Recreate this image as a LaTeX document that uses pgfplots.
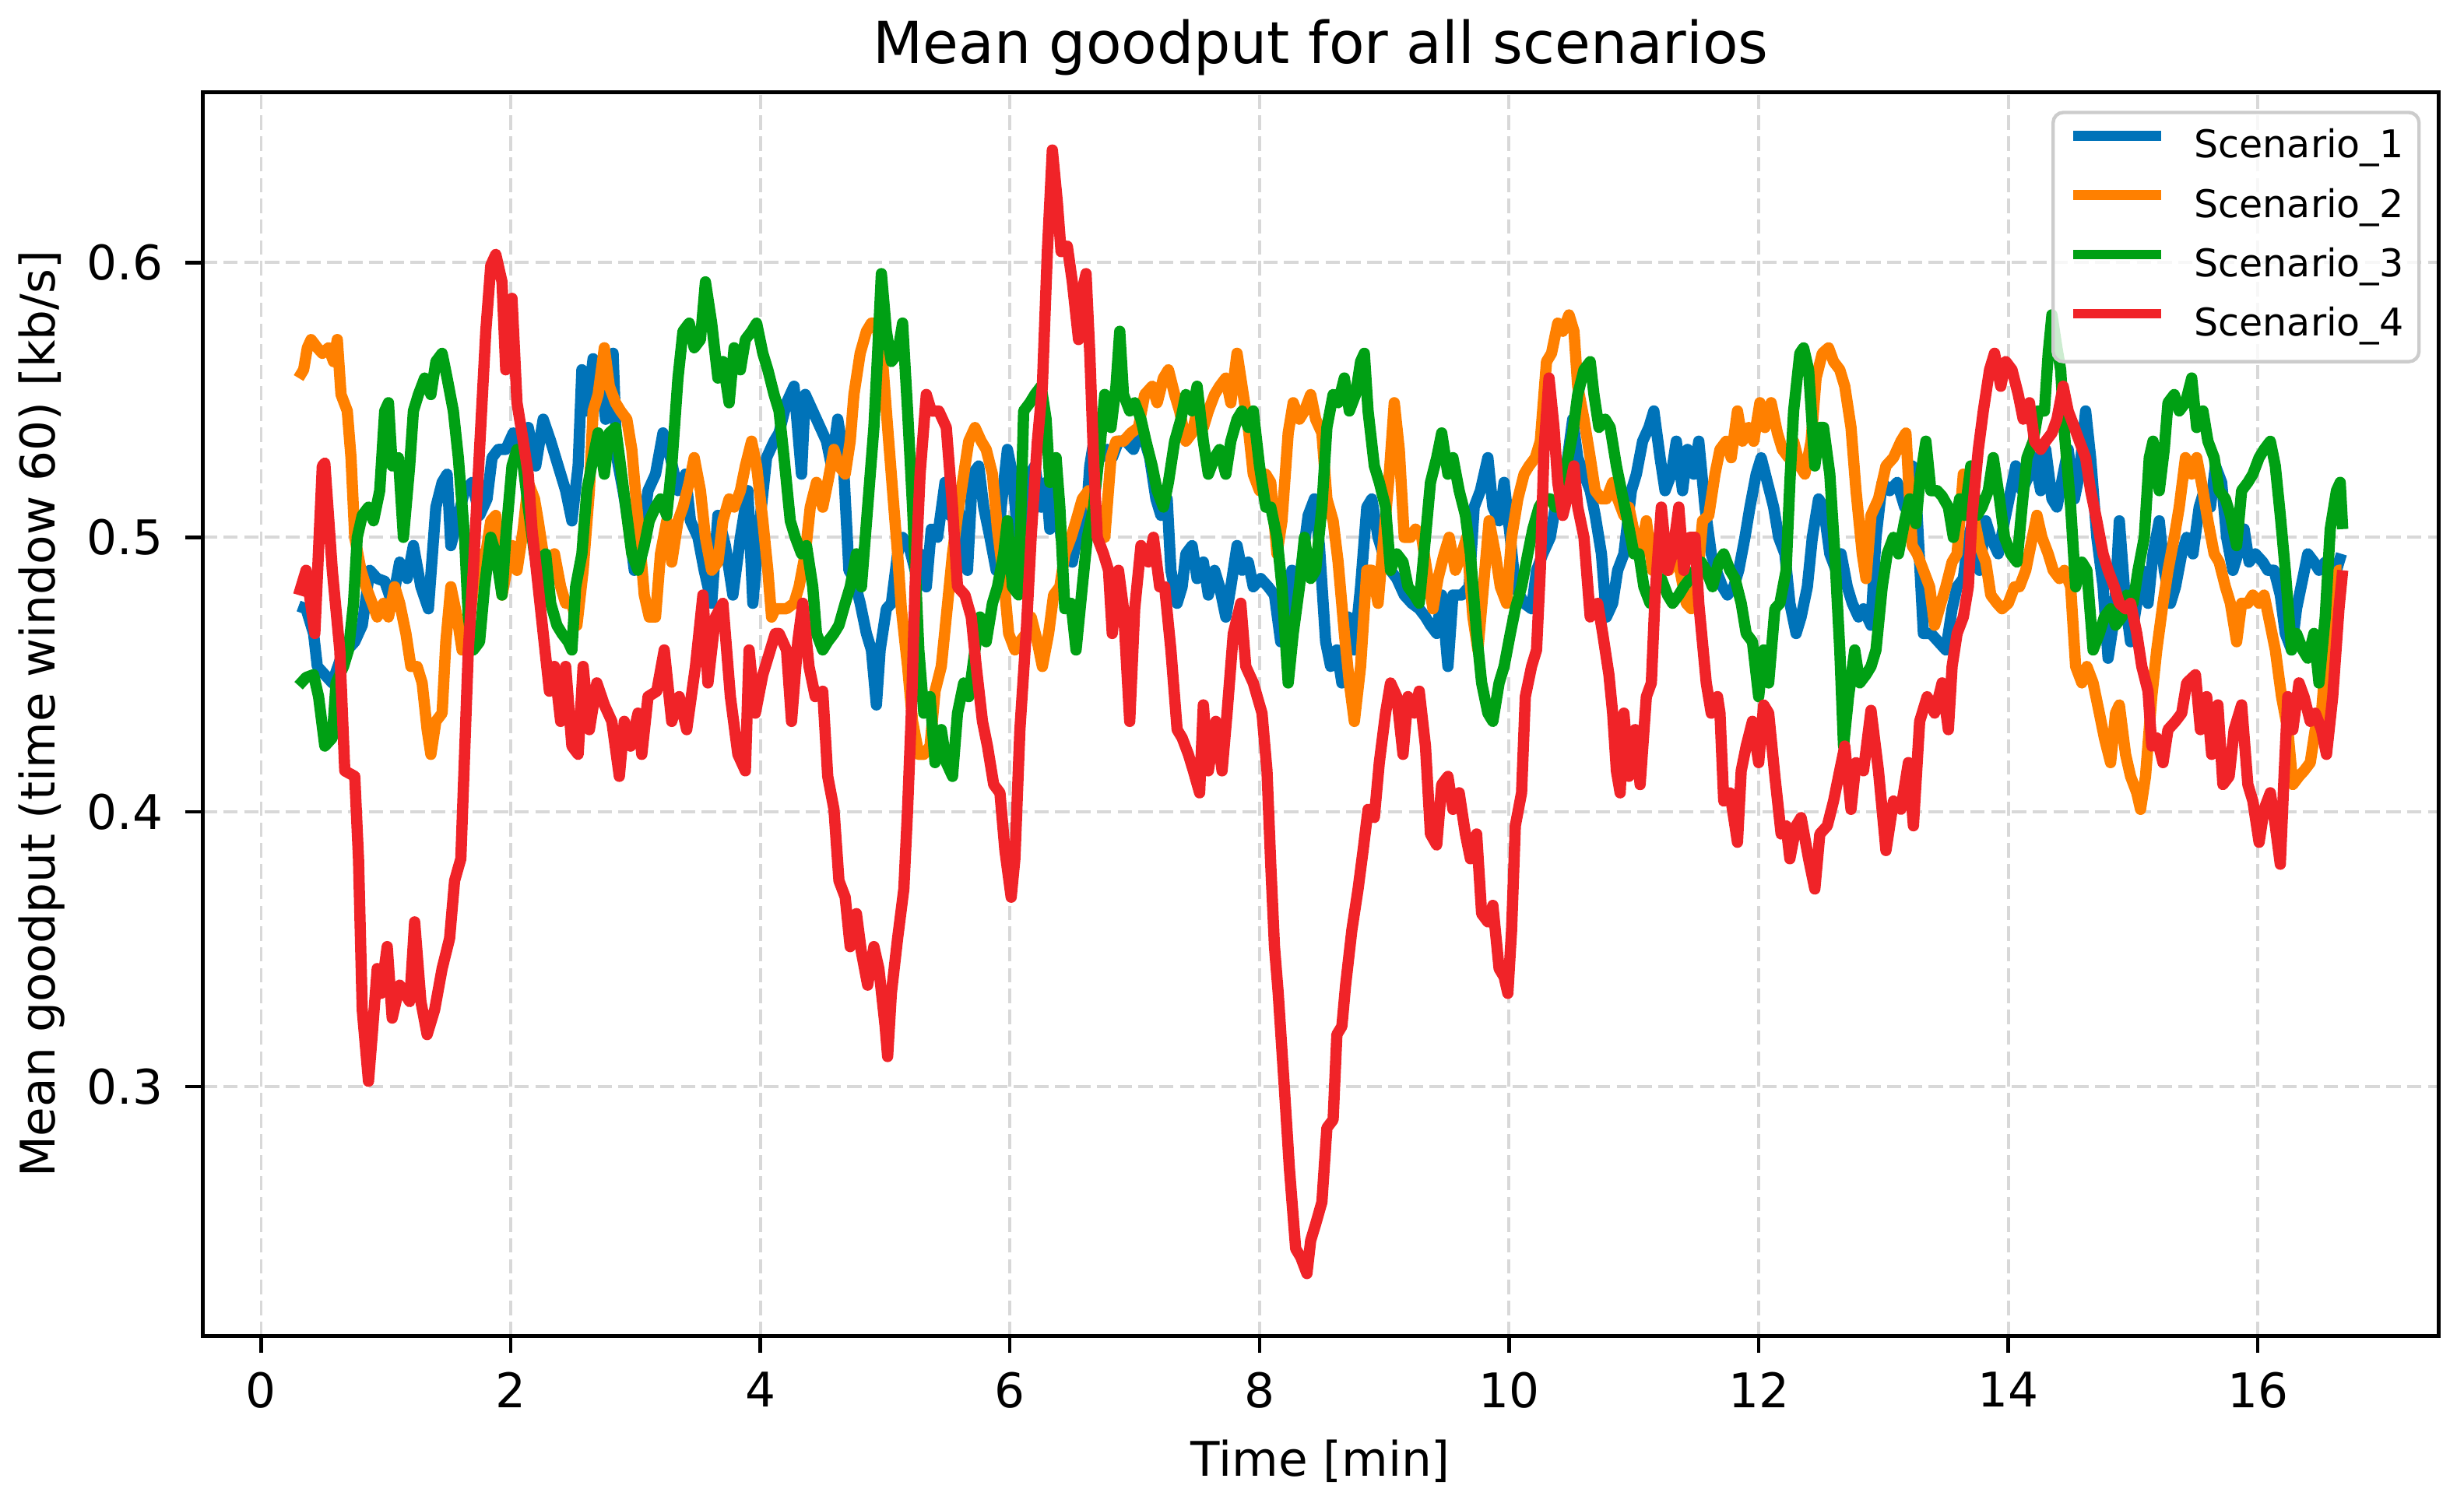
\documentclass[border=0pt]{standalone}
\usepackage{fontspec}
\setmainfont{DejaVu Sans}
\usepackage{pgfplots}
\pgfplotsset{compat=1.18}
\definecolor{cblue}{RGB}{0,115,185}
\definecolor{corange}{RGB}{255,128,0}
\definecolor{cgreen}{RGB}{0,160,20}
\definecolor{cred}{RGB}{240,35,40}
\definecolor{cgrid}{RGB}{216,216,216}
\definecolor{cleg}{RGB}{204,204,204}
\begin{document}
\begin{tikzpicture}
\useasboundingbox (-59.4pt,-48.9pt) rectangle (663.3pt,391.9pt);
\begin{axis}[
  at={(0,0)}, anchor=south west,
  scale only axis, width=655.9pt, height=364.8pt,
  xmin=-0.47, xmax=17.45, ymin=0.2093, ymax=0.662,
  xtick={0,2,4,6,8,10,12,14,16},
  xticklabels={0,2,4,6,8,10,12,14,16},
  ytick={0.3,0.4,0.5,0.6},
  yticklabels={0.3,0.4,0.5,0.6},
  /pgf/number format/assume math mode=true,
  tick align=outside, tick pos=left,
  major tick length=5pt,
  every tick/.style={black, line width=1pt},
  axis line style={line width=1.1pt},
  grid=major,
  major grid style={cgrid, line width=0.9pt, dash pattern=on 4.2pt off 1.9pt},
  ticklabel style={font=\fontsize{14}{16}\selectfont, inner sep=0pt},
  xticklabel style={yshift=-5.5pt},
  yticklabel style={xshift=-6.4pt},
  title={Mean goodput for all scenarios},
  title style={font=\fontsize{17}{20}\selectfont, at={(axis description cs:0.5,1)}, anchor=base, yshift=2.4pt, inner sep=0pt},
  xlabel={Time [min]},
  xlabel style={font=\fontsize{14}{16}\selectfont, at={(axis description cs:0.5,-0.0833)}, anchor=north, inner sep=0pt},
  ylabel={Mean goodput (time window 60) [kb/s]},
  ylabel style={font=\fontsize{14}{16}\selectfont, at={(axis description cs:-0.0613,0.5)}, anchor=south, inner sep=0pt},
  legend image code/.code={\draw[#1, line width=2.9pt] (0pt,0.36em) -- (25.8pt,0.36em);},
  legend style={at={(axis description cs:1,1)}, anchor=north east, xshift=-5.3pt, yshift=-5.4pt,
    draw=cleg, line width=1pt, rounded corners=3pt, fill=white, fill opacity=0.8, text opacity=1, draw opacity=1,
    font=\fontsize{11.2}{13}\selectfont, inner xsep=4.5pt, inner ysep=4.75pt, row sep=6pt, column sep=8.2pt,
    nodes={inner sep=0pt, text height=8.6pt, text depth=2.8pt}},
  legend cell align=left,
]
% Scenario_1
\addplot[cblue, line width=3.3pt, line join=round, mark=none] coordinates {
(0.30,0.475)(0.36,0.474)(0.42,0.465)(0.45,0.453)(0.51,0.450)(0.57,0.447)(0.63,0.455)(0.69,0.459)(0.75,0.462)(0.81,0.468)(0.87,0.488)(0.93,0.485)(0.99,0.484)(1.05,0.476)(1.11,0.491)(1.17,0.485)(1.22,0.497)(1.28,0.482)(1.34,0.474)(1.40,0.511)(1.45,0.520)(1.49,0.523)(1.52,0.497)(1.57,0.506)(1.63,0.517)(1.69,0.520)(1.75,0.508)(1.81,0.514)(1.85,0.529)(1.90,0.532)(1.96,0.532)(2.02,0.538)(2.08,0.529)(2.14,0.540)(2.20,0.526)(2.26,0.543)(2.32,0.535)(2.38,0.526)(2.44,0.517)(2.49,0.506)(2.54,0.526)(2.57,0.561)(2.61,0.546)(2.66,0.565)(2.72,0.558)(2.76,0.543)(2.82,0.567)(2.85,0.529)(2.90,0.517)(2.94,0.506)(2.99,0.488)(3.05,0.500)(3.10,0.517)(3.16,0.523)(3.22,0.538)(3.28,0.529)(3.34,0.517)(3.40,0.523)(3.44,0.506)(3.50,0.500)(3.55,0.488)(3.61,0.476)(3.66,0.508)(3.72,0.497)(3.78,0.479)(3.84,0.500)(3.90,0.517)(3.94,0.476)(3.99,0.503)(4.05,0.529)(4.11,0.535)
(4.15,0.538)(4.21,0.549)(4.27,0.555)(4.33,0.523)(4.36,0.552)(4.42,0.546)(4.48,0.540)(4.53,0.535)(4.57,0.526)(4.62,0.543)(4.66,0.532)(4.71,0.488)(4.75,0.485)(4.80,0.476)(4.85,0.465)(4.89,0.459)(4.93,0.439)(4.96,0.459)(5.01,0.474)(5.05,0.476)(5.10,0.494)(5.14,0.500)(5.19,0.497)(5.24,0.488)(5.28,0.494)(5.33,0.482)(5.37,0.503)(5.42,0.500)(5.48,0.520)(5.52,0.508)(5.57,0.517)(5.61,0.503)(5.66,0.488)(5.70,0.523)(5.75,0.526)(5.79,0.511)(5.84,0.500)(5.89,0.488)(5.93,0.511)(5.98,0.532)(6.02,0.523)(6.07,0.497)(6.11,0.511)(6.16,0.523)(6.20,0.526)(6.25,0.511)(6.29,0.520)(6.32,0.503)(6.37,0.517)(6.41,0.500)(6.46,0.497)(6.50,0.491)(6.55,0.503)(6.60,0.500)(6.64,0.526)(6.69,0.540)(6.73,0.529)(6.78,0.532)(6.82,0.529)(6.87,0.535)(6.93,0.535)(6.99,0.532)(7.03,0.538)(7.08,0.535)(7.12,0.529)(7.17,0.514)(7.21,0.508)(7.26,0.514)(7.29,0.488)(7.34,0.476)(7.38,0.482)(7.41,0.494)(7.46,0.497)(7.50,0.485)(7.55,0.491)(7.59,0.479)(7.64,0.488)(7.68,0.482)(7.73,0.471)(7.77,0.482)(7.82,0.497)(7.86,0.488)(7.91,0.491)(7.95,0.482)(8.01,0.485)(8.07,0.482)(8.12,0.479)(8.17,0.462)(8.21,0.474)(8.26,0.488)(8.30,0.479)(8.35,0.494)(8.39,0.508)(8.44,0.514)(8.48,0.497)(8.53,0.462)(8.57,0.453)(8.62,0.459)(8.66,0.447)(8.71,0.471)(8.76,0.459)
(8.81,0.482)(8.86,0.511)(8.90,0.514)(8.95,0.500)(8.99,0.494)(9.05,0.488)(9.10,0.485)(9.16,0.479)(9.22,0.476)(9.28,0.474)(9.33,0.471)(9.37,0.468)(9.42,0.465)(9.46,0.479)(9.51,0.453)(9.55,0.479)(9.62,0.479)(9.68,0.482)(9.72,0.511)(9.77,0.517)(9.83,0.529)(9.87,0.511)(9.92,0.506)(9.96,0.520)(10.01,0.500)(10.05,0.482)(10.12,0.476)(10.18,0.474)(10.22,0.488)(10.27,0.494)(10.33,0.500)(10.37,0.511)(10.42,0.517)(10.46,0.526)(10.51,0.543)(10.55,0.529)(10.60,0.523)(10.65,0.517)(10.69,0.508)(10.74,0.494)(10.78,0.471)(10.83,0.476)(10.87,0.488)(10.92,0.494)(10.98,0.517)(11.02,0.523)(11.07,0.535)(11.12,0.540)(11.16,0.546)(11.21,0.529)(11.25,0.517)(11.30,0.523)(11.34,0.535)(11.39,0.517)(11.43,0.532)(11.48,0.523)(11.52,0.535)(11.57,0.511)(11.62,0.494)(11.66,0.488)(11.71,0.482)(11.75,0.479)(11.80,0.482)(11.84,0.488)(11.89,0.500)(11.93,0.511)(11.98,0.523)(12.02,0.529)(12.07,0.520)(12.12,0.511)(12.16,0.500)(12.21,0.494)(12.25,0.476)(12.30,0.465)(12.34,0.471)(12.39,0.482)(12.43,0.500)(12.48,0.514)(12.52,0.511)(12.57,0.494)(12.62,0.488)(12.66,0.494)(12.71,0.482)(12.75,0.476)(12.80,0.471)(12.84,0.474)
(12.90,0.468)(12.94,0.500)(12.99,0.520)(13.05,0.517)(13.11,0.520)(13.17,0.511)(13.23,0.526)(13.27,0.508)(13.32,0.465)(13.38,0.465)(13.44,0.462)(13.50,0.459)(13.55,0.474)(13.59,0.482)(13.64,0.485)(13.68,0.500)(13.73,0.508)(13.77,0.488)(13.82,0.506)(13.86,0.500)(13.92,0.494)(13.97,0.506)(14.02,0.517)(14.06,0.526)(14.11,0.517)(14.17,0.523)(14.21,0.529)(14.26,0.517)(14.30,0.532)(14.35,0.514)(14.39,0.511)(14.44,0.523)(14.48,0.532)(14.53,0.514)(14.57,0.523)(14.62,0.546)(14.66,0.529)(14.71,0.500)(14.76,0.482)(14.80,0.456)(14.85,0.471)(14.89,0.506)(14.94,0.476)(14.98,0.462)(15.03,0.476)(15.07,0.488)(15.12,0.476)(15.16,0.494)(15.21,0.506)(15.25,0.488)(15.30,0.476)(15.34,0.482)(15.39,0.494)(15.43,0.500)(15.48,0.494)(15.53,0.511)(15.57,0.517)(15.62,0.511)(15.66,0.526)(15.71,0.520)(15.75,0.500)(15.80,0.488)(15.84,0.494)(15.89,0.503)(15.93,0.491)(15.98,0.494)(16.04,0.491)(16.08,0.488)(16.13,0.488)(16.18,0.479)(16.22,0.465)(16.27,0.459)(16.31,0.474)(16.36,0.485)(16.40,0.494)(16.45,0.491)(16.49,0.488)(16.54,0.491)(16.58,0.482)(16.63,0.488)(16.67,0.494)
};
\addlegendentry{Scenario\_1}
% Scenario_2
\addplot[corange, line width=3.3pt, line join=round, mark=none] coordinates {
(0.30,0.558)(0.34,0.561)(0.37,0.569)(0.40,0.572)(0.45,0.569)(0.49,0.567)(0.54,0.569)(0.58,0.564)(0.61,0.572)(0.64,0.552)(0.69,0.546)(0.72,0.529)(0.75,0.500)(0.80,0.488)(0.84,0.482)(0.89,0.476)(0.93,0.471)(0.98,0.476)(1.02,0.471)(1.07,0.482)(1.11,0.476)(1.16,0.465)(1.20,0.453)(1.25,0.453)(1.29,0.447)(1.33,0.430)(1.36,0.421)(1.40,0.433)(1.45,0.436)(1.48,0.462)(1.52,0.482)(1.57,0.471)(1.61,0.459)(1.66,0.465)(1.70,0.482)(1.75,0.494)(1.79,0.491)(1.84,0.506)(1.88,0.508)(1.93,0.479)(1.98,0.491)(2.01,0.497)(2.05,0.488)(2.10,0.503)(2.14,0.520)(2.19,0.514)(2.22,0.506)(2.26,0.494)(2.31,0.488)(2.35,0.494)(2.40,0.482)(2.44,0.476)(2.49,0.476)(2.53,0.468)(2.58,0.488)(2.63,0.517)(2.66,0.546)(2.70,0.552)(2.75,0.569)(2.79,0.555)(2.84,0.549)(2.88,0.546)(2.93,0.543)(2.97,0.532)(3.02,0.506)(3.07,0.479)(3.11,0.471)(3.16,0.471)(3.20,0.494)(3.25,0.506)(3.29,0.491)(3.34,0.506)(3.38,0.511)(3.43,0.520)(3.47,0.529)(3.52,0.517)(3.56,0.500)(3.61,0.488)(3.66,0.491)(3.70,0.506)(3.75,0.514)(3.79,0.511)(3.84,0.517)(3.88,0.526)(3.93,0.535)(3.97,0.526)(4.02,0.506)(4.06,0.488)(4.09,0.471)(4.12,0.474)
(4.15,0.474)(4.21,0.474)(4.27,0.476)(4.31,0.482)(4.36,0.494)(4.40,0.511)(4.45,0.520)(4.50,0.511)(4.54,0.520)(4.59,0.532)(4.63,0.526)(4.68,0.523)(4.72,0.535)(4.75,0.552)(4.80,0.567)(4.85,0.575)(4.89,0.578)(4.93,0.578)(4.98,0.564)(5.02,0.540)(5.07,0.511)(5.10,0.494)(5.13,0.474)(5.18,0.453)(5.22,0.433)(5.27,0.421)(5.31,0.421)(5.36,0.424)(5.40,0.444)(5.45,0.453)(5.49,0.471)(5.54,0.494)(5.58,0.508)(5.63,0.523)(5.67,0.535)(5.72,0.540)(5.77,0.535)(5.81,0.532)(5.86,0.523)(5.90,0.503)(5.95,0.485)(5.99,0.465)(6.04,0.459)(6.08,0.462)(6.13,0.465)(6.17,0.471)(6.22,0.462)(6.26,0.453)(6.31,0.465)(6.35,0.479)(6.40,0.482)(6.44,0.494)(6.49,0.500)(6.53,0.506)(6.58,0.514)(6.63,0.517)(6.67,0.508)(6.72,0.503)(6.76,0.500)(6.81,0.529)(6.85,0.535)(6.91,0.535)(6.97,0.538)(7.03,0.540)(7.08,0.552)(7.14,0.555)(7.18,0.549)(7.23,0.558)(7.27,0.561)(7.32,0.552)(7.36,0.546)(7.41,0.535)(7.46,0.538)(7.50,0.546)(7.55,0.540)(7.59,0.546)(7.64,0.552)(7.68,0.555)(7.73,0.558)(7.77,0.549)(7.82,0.567)(7.86,0.555)(7.91,0.540)(7.95,0.523)(8.00,0.517)(8.05,0.523)(8.09,0.520)(8.14,0.494)(8.18,0.506)(8.23,0.538)(8.27,0.549)(8.32,0.543)(8.36,0.546)(8.41,0.552)(8.45,0.543)(8.50,0.538)(8.54,0.514)(8.59,0.506)(8.63,0.491)(8.68,0.465)(8.72,0.447)(8.76,0.433)
(8.81,0.453)(8.86,0.488)(8.90,0.488)(8.95,0.476)(8.99,0.497)(9.04,0.523)(9.08,0.549)(9.12,0.532)(9.16,0.500)(9.21,0.500)(9.25,0.503)(9.30,0.500)(9.34,0.488)(9.39,0.474)(9.43,0.485)(9.48,0.494)(9.52,0.500)(9.57,0.488)(9.62,0.494)(9.66,0.500)(9.71,0.471)(9.75,0.459)(9.80,0.485)(9.84,0.506)(9.89,0.494)(9.93,0.482)(9.98,0.476)(10.02,0.500)(10.07,0.514)(10.12,0.523)(10.16,0.526)(10.21,0.529)(10.25,0.535)(10.30,0.564)(10.34,0.567)(10.39,0.578)(10.43,0.575)(10.48,0.581)(10.52,0.575)(10.55,0.555)(10.60,0.543)(10.65,0.529)(10.69,0.517)(10.74,0.514)(10.78,0.514)(10.83,0.520)(10.87,0.514)(10.92,0.508)(10.96,0.511)(11.01,0.500)(11.05,0.494)(11.10,0.506)(11.15,0.488)(11.19,0.500)(11.24,0.494)(11.28,0.488)(11.33,0.494)(11.37,0.488)(11.42,0.476)(11.46,0.474)(11.51,0.485)(11.55,0.506)(11.60,0.508)(11.65,0.523)(11.69,0.532)(11.74,0.535)(11.78,0.529)(11.83,0.546)(11.87,0.535)(11.92,0.540)(11.96,0.535)(12.01,0.549)(12.05,0.540)(12.10,0.549)(12.15,0.538)(12.19,0.532)(12.24,0.529)(12.28,0.535)(12.33,0.526)(12.37,0.523)(12.42,0.535)(12.46,0.558)(12.51,0.567)(12.56,0.569)(12.60,0.564)(12.65,0.561)(12.69,0.555)(12.74,0.540)(12.78,0.517)(12.83,0.494)(12.86,0.485)
(12.90,0.508)(12.96,0.514)(13.02,0.526)(13.08,0.529)(13.14,0.535)(13.18,0.538)(13.23,0.497)(13.27,0.494)(13.32,0.488)(13.37,0.482)(13.41,0.468)(13.46,0.476)(13.50,0.482)(13.55,0.491)(13.59,0.494)(13.64,0.523)(13.68,0.511)(13.73,0.506)(13.77,0.497)(13.82,0.491)(13.86,0.479)(13.91,0.476)(13.95,0.474)(14.00,0.476)(14.05,0.482)(14.09,0.482)(14.14,0.488)(14.18,0.497)(14.23,0.508)(14.27,0.500)(14.32,0.494)(14.36,0.488)(14.41,0.485)(14.45,0.488)(14.50,0.482)(14.54,0.453)(14.59,0.447)(14.63,0.453)(14.68,0.447)(14.73,0.436)(14.77,0.427)(14.82,0.418)(14.86,0.436)(14.89,0.439)(14.94,0.421)(14.98,0.413)(15.03,0.407)(15.06,0.401)(15.10,0.413)(15.15,0.442)(15.19,0.459)(15.24,0.476)(15.28,0.488)(15.33,0.500)(15.37,0.511)(15.42,0.529)(15.47,0.523)(15.51,0.529)(15.56,0.517)(15.60,0.506)(15.65,0.494)(15.69,0.491)(15.74,0.482)(15.78,0.476)(15.83,0.462)(15.87,0.476)(15.92,0.476)(15.96,0.479)(16.01,0.476)(16.05,0.479)(16.10,0.468)(16.14,0.459)(16.19,0.442)(16.24,0.430)(16.28,0.410)(16.33,0.413)(16.37,0.415)(16.42,0.418)(16.46,0.430)(16.51,0.436)(16.55,0.459)(16.60,0.474)(16.65,0.488)(16.67,0.488)
};
\addlegendentry{Scenario\_2}
% Scenario_3
\addplot[cgreen, line width=3.3pt, line join=round, mark=none] coordinates {
(0.30,0.446)(0.36,0.449)(0.42,0.450)(0.46,0.442)(0.51,0.424)(0.57,0.427)(0.60,0.447)(0.66,0.453)(0.70,0.459)(0.74,0.476)(0.77,0.500)(0.81,0.508)(0.86,0.511)(0.90,0.506)(0.95,0.517)(0.99,0.546)(1.02,0.549)(1.05,0.526)(1.10,0.529)(1.14,0.500)(1.19,0.526)(1.22,0.546)(1.26,0.552)(1.31,0.558)(1.36,0.552)(1.40,0.564)(1.45,0.567)(1.49,0.558)(1.54,0.546)(1.58,0.529)(1.63,0.500)(1.66,0.471)(1.70,0.459)(1.75,0.462)(1.79,0.482)(1.84,0.500)(1.88,0.494)(1.93,0.479)(1.96,0.500)(2.01,0.526)(2.05,0.532)(2.10,0.526)(2.14,0.511)(2.19,0.494)(2.23,0.491)(2.28,0.494)(2.32,0.476)(2.37,0.468)(2.41,0.465)(2.46,0.462)(2.49,0.459)(2.52,0.482)(2.57,0.494)(2.61,0.517)(2.66,0.529)(2.70,0.538)(2.75,0.523)(2.79,0.538)(2.84,0.540)(2.88,0.526)(2.93,0.508)(2.97,0.494)(3.02,0.488)(3.07,0.497)(3.11,0.506)(3.16,0.511)(3.20,0.514)(3.25,0.508)(3.29,0.526)(3.34,0.558)(3.38,0.575)(3.43,0.578)(3.47,0.569)(3.52,0.572)(3.56,0.593)(3.61,0.578)(3.66,0.558)(3.70,0.564)(3.75,0.549)(3.79,0.569)(3.84,0.561)(3.88,0.572)(3.93,0.575)(3.97,0.578)(4.02,0.567)(4.06,0.561)(4.11,0.552)
(4.15,0.546)(4.19,0.529)(4.24,0.506)(4.28,0.500)(4.33,0.494)(4.37,0.497)(4.42,0.482)(4.45,0.465)(4.50,0.459)(4.54,0.462)(4.59,0.465)(4.63,0.468)(4.68,0.476)(4.72,0.482)(4.77,0.494)(4.81,0.482)(4.86,0.511)(4.91,0.540)(4.94,0.567)(4.97,0.596)(5.01,0.575)(5.05,0.564)(5.10,0.567)(5.14,0.578)(5.18,0.546)(5.22,0.511)(5.27,0.459)(5.31,0.436)(5.36,0.442)(5.40,0.418)(5.45,0.430)(5.49,0.418)(5.54,0.413)(5.58,0.436)(5.63,0.447)(5.67,0.442)(5.72,0.459)(5.76,0.471)(5.81,0.462)(5.86,0.476)(5.90,0.482)(5.95,0.494)(5.98,0.506)(6.02,0.482)(6.07,0.479)(6.11,0.546)(6.16,0.549)(6.20,0.552)(6.25,0.555)(6.29,0.543)(6.32,0.520)(6.37,0.529)(6.40,0.511)(6.44,0.474)(6.49,0.476)(6.53,0.459)(6.58,0.482)(6.62,0.500)(6.67,0.511)(6.72,0.532)(6.76,0.552)(6.81,0.540)(6.85,0.555)(6.88,0.575)(6.91,0.552)(6.96,0.546)(7.00,0.549)(7.05,0.543)(7.09,0.535)(7.14,0.526)(7.18,0.517)(7.23,0.511)(7.27,0.520)(7.32,0.535)(7.37,0.543)(7.41,0.552)(7.46,0.546)(7.50,0.555)(7.55,0.535)(7.59,0.523)(7.64,0.529)(7.68,0.532)(7.73,0.523)(7.77,0.535)(7.82,0.543)(7.86,0.546)(7.91,0.540)(7.95,0.546)(8.00,0.526)(8.05,0.511)(8.09,0.511)(8.14,0.500)(8.18,0.482)(8.23,0.447)(8.27,0.465)(8.32,0.482)(8.36,0.500)(8.41,0.485)(8.45,0.488)(8.50,0.511)(8.54,0.540)(8.59,0.552)(8.63,0.549)(8.68,0.558)(8.72,0.546)(8.77,0.552)
(8.81,0.564)(8.84,0.567)(8.87,0.546)(8.92,0.526)(8.96,0.520)(9.01,0.511)(9.05,0.488)(9.10,0.494)(9.15,0.491)(9.19,0.482)(9.24,0.479)(9.28,0.476)(9.33,0.500)(9.37,0.520)(9.42,0.529)(9.46,0.538)(9.51,0.523)(9.55,0.529)(9.60,0.517)(9.65,0.508)(9.69,0.494)(9.74,0.465)(9.78,0.447)(9.83,0.436)(9.87,0.433)(9.92,0.447)(9.96,0.453)(10.01,0.465)(10.05,0.474)(10.10,0.482)(10.15,0.494)(10.19,0.503)(10.24,0.511)(10.28,0.514)(10.33,0.514)(10.37,0.511)(10.42,0.517)(10.46,0.526)(10.51,0.538)(10.55,0.552)(10.60,0.561)(10.65,0.564)(10.68,0.552)(10.72,0.540)(10.77,0.543)(10.81,0.540)(10.86,0.526)(10.90,0.517)(10.95,0.506)(11.00,0.494)(11.04,0.494)(11.08,0.482)(11.13,0.476)(11.18,0.482)(11.22,0.485)(11.27,0.479)(11.31,0.476)(11.36,0.479)(11.40,0.482)(11.45,0.485)(11.49,0.488)(11.54,0.491)(11.58,0.488)(11.63,0.482)(11.68,0.491)(11.72,0.494)(11.77,0.488)(11.81,0.485)(11.86,0.476)(11.90,0.465)(11.95,0.462)(12.00,0.442)(12.04,0.459)(12.08,0.447)(12.13,0.474)(12.17,0.476)(12.22,0.488)(12.25,0.520)(12.28,0.546)(12.33,0.567)(12.36,0.569)(12.40,0.561)(12.45,0.526)(12.49,0.540)(12.52,0.540)(12.57,0.523)(12.61,0.494)(12.65,0.459)(12.68,0.424)(12.72,0.442)(12.77,0.459)(12.81,0.447)(12.86,0.450)
(12.90,0.453)(12.94,0.459)(12.99,0.482)(13.03,0.494)(13.08,0.500)(13.12,0.494)(13.17,0.506)(13.21,0.514)(13.26,0.505)(13.29,0.520)(13.34,0.535)(13.38,0.517)(13.43,0.517)(13.47,0.515)(13.52,0.511)(13.56,0.500)(13.61,0.514)(13.65,0.508)(13.70,0.526)(13.75,0.508)(13.79,0.511)(13.84,0.517)(13.88,0.529)(13.93,0.514)(13.97,0.500)(14.02,0.494)(14.07,0.491)(14.11,0.511)(14.15,0.529)(14.20,0.535)(14.24,0.546)(14.29,0.546)(14.32,0.567)(14.35,0.581)(14.39,0.569)(14.42,0.561)(14.45,0.538)(14.50,0.511)(14.54,0.482)(14.59,0.491)(14.63,0.488)(14.68,0.459)(14.73,0.465)(14.77,0.471)(14.82,0.474)(14.86,0.468)(14.91,0.471)(14.95,0.479)(15.00,0.476)(15.04,0.488)(15.09,0.500)(15.13,0.529)(15.16,0.535)(15.21,0.517)(15.25,0.532)(15.28,0.549)(15.33,0.552)(15.37,0.546)(15.42,0.549)(15.47,0.558)(15.51,0.540)(15.56,0.546)(15.60,0.535)(15.65,0.529)(15.69,0.517)(15.74,0.514)(15.78,0.508)(15.83,0.497)(15.87,0.517)(15.92,0.520)(15.96,0.523)(16.01,0.529)(16.05,0.532)(16.10,0.535)(16.14,0.526)(16.18,0.508)(16.22,0.488)(16.27,0.459)(16.31,0.465)(16.36,0.459)(16.40,0.456)(16.45,0.465)(16.49,0.447)(16.54,0.471)(16.58,0.503)(16.63,0.517)(16.66,0.520)(16.68,0.503)
};
\addlegendentry{Scenario\_3}
% Scenario_4
\addplot[cred, line width=3.3pt, line join=round, mark=none] coordinates {
(0.30,0.479)(0.36,0.488)(0.43,0.465)(0.49,0.526)(0.51,0.527)(0.57,0.488)(0.63,0.459)(0.67,0.415)(0.75,0.413)(0.78,0.383)(0.81,0.328)(0.86,0.302)(0.89,0.319)(0.93,0.343)(0.96,0.334)(1.01,0.351)(1.05,0.325)(1.11,0.337)(1.19,0.331)(1.23,0.360)(1.28,0.331)(1.33,0.319)(1.39,0.328)(1.45,0.343)(1.51,0.354)(1.55,0.375)(1.60,0.383)(1.63,0.421)(1.66,0.459)(1.70,0.488)(1.75,0.532)(1.80,0.575)(1.84,0.599)(1.88,0.603)(1.93,0.593)(1.96,0.561)(2.01,0.587)(2.05,0.549)(2.10,0.535)(2.14,0.523)(2.17,0.503)(2.22,0.482)(2.26,0.465)(2.31,0.444)(2.35,0.453)(2.40,0.433)(2.44,0.453)(2.49,0.424)(2.54,0.421)(2.58,0.453)(2.63,0.430)(2.69,0.447)(2.75,0.439)(2.81,0.433)(2.87,0.413)(2.91,0.433)(2.96,0.424)(3.02,0.436)(3.05,0.421)(3.10,0.442)(3.17,0.444)(3.23,0.459)(3.29,0.433)(3.35,0.442)(3.41,0.430)(3.48,0.453)(3.54,0.479)(3.58,0.447)(3.64,0.471)(3.70,0.476)(3.76,0.442)(3.82,0.421)(3.88,0.415)(3.91,0.459)(3.96,0.436)(4.02,0.450)(4.08,0.459)(4.12,0.465)
(4.15,0.465)(4.21,0.459)(4.25,0.433)(4.30,0.462)(4.34,0.476)(4.39,0.453)(4.44,0.442)(4.50,0.444)(4.54,0.413)(4.59,0.401)(4.63,0.375)(4.68,0.369)(4.72,0.351)(4.77,0.363)(4.81,0.349)(4.86,0.337)(4.91,0.351)(4.95,0.343)(5.00,0.322)(5.02,0.311)(5.05,0.334)(5.10,0.354)(5.15,0.372)(5.18,0.401)(5.21,0.436)(5.24,0.482)(5.28,0.523)(5.33,0.552)(5.37,0.546)(5.43,0.546)(5.49,0.540)(5.54,0.511)(5.58,0.482)(5.64,0.479)(5.69,0.471)(5.73,0.453)(5.78,0.433)(5.82,0.424)(5.87,0.410)(5.92,0.407)(5.96,0.386)(6.01,0.369)(6.04,0.383)(6.08,0.430)(6.13,0.465)(6.17,0.500)(6.22,0.535)(6.26,0.555)(6.30,0.604)(6.34,0.641)(6.38,0.622)(6.41,0.604)(6.46,0.606)(6.50,0.593)(6.55,0.572)(6.58,0.590)(6.61,0.596)(6.64,0.567)(6.67,0.529)(6.70,0.500)(6.75,0.494)(6.79,0.488)(6.82,0.465)(6.87,0.488)(6.91,0.474)(6.96,0.433)(7.00,0.474)(7.05,0.497)(7.11,0.491)(7.15,0.500)(7.20,0.482)(7.24,0.482)(7.29,0.459)(7.34,0.430)(7.38,0.427)(7.43,0.421)(7.47,0.415)(7.52,0.407)(7.55,0.439)(7.59,0.415)(7.65,0.433)(7.70,0.415)(7.74,0.436)(7.79,0.465)(7.85,0.476)(7.89,0.453)(7.95,0.447)(8.02,0.436)(8.06,0.415)(8.09,0.381)(8.12,0.351)(8.15,0.334)(8.20,0.299)(8.24,0.270)(8.29,0.241)(8.33,0.238)(8.38,0.232)(8.41,0.244)(8.45,0.250)(8.50,0.258)(8.54,0.285)(8.59,0.288)(8.62,0.319)(8.66,0.322)(8.69,0.337)(8.74,0.357)(8.79,0.372)
(8.83,0.386)(8.87,0.401)(8.92,0.398)(8.96,0.418)(9.01,0.436)(9.05,0.447)(9.10,0.442)(9.15,0.421)(9.19,0.442)(9.24,0.436)(9.28,0.444)(9.33,0.424)(9.37,0.392)(9.42,0.388)(9.46,0.410)(9.51,0.413)(9.55,0.401)(9.60,0.407)(9.65,0.392)(9.69,0.383)(9.74,0.392)(9.78,0.363)(9.83,0.360)(9.87,0.366)(9.92,0.343)(9.96,0.340)(9.99,0.334)(10.02,0.357)(10.05,0.395)(10.10,0.407)(10.13,0.442)(10.18,0.453)(10.22,0.459)(10.25,0.488)(10.28,0.532)(10.32,0.558)(10.36,0.540)(10.39,0.520)(10.43,0.508)(10.48,0.517)(10.52,0.526)(10.55,0.511)(10.60,0.500)(10.65,0.471)(10.71,0.476)(10.75,0.465)(10.80,0.450)(10.83,0.436)(10.86,0.415)(10.89,0.407)(10.92,0.436)(10.96,0.413)(11.01,0.430)(11.05,0.410)(11.10,0.442)(11.14,0.447)(11.17,0.479)(11.22,0.511)(11.27,0.488)(11.31,0.494)(11.36,0.511)(11.40,0.488)(11.45,0.500)(11.49,0.500)(11.52,0.476)(11.58,0.447)(11.62,0.436)(11.67,0.442)(11.69,0.436)(11.72,0.404)(11.77,0.407)(11.83,0.389)(11.86,0.415)(11.90,0.424)(11.95,0.433)(12.00,0.418)(12.04,0.439)(12.08,0.436)(12.13,0.413)(12.18,0.392)(12.22,0.395)(12.25,0.383)(12.30,0.395)(12.34,0.398)(12.40,0.383)(12.45,0.372)(12.49,0.392)(12.55,0.395)(12.60,0.404)(12.64,0.413)(12.69,0.424)(12.74,0.401)(12.78,0.418)(12.84,0.415)
(12.90,0.437)(12.96,0.415)(13.02,0.386)(13.08,0.404)(13.14,0.401)(13.20,0.418)(13.24,0.395)(13.29,0.433)(13.35,0.442)(13.41,0.436)(13.47,0.447)(13.52,0.430)(13.55,0.453)(13.59,0.465)(13.64,0.471)(13.68,0.482)(13.71,0.508)(13.76,0.532)(13.80,0.546)(13.85,0.561)(13.89,0.567)(13.94,0.555)(13.98,0.564)(14.03,0.561)(14.08,0.552)(14.12,0.543)(14.17,0.549)(14.21,0.535)(14.26,0.532)(14.30,0.535)(14.35,0.538)(14.39,0.543)(14.44,0.555)(14.48,0.546)(14.53,0.540)(14.57,0.535)(14.62,0.529)(14.66,0.517)(14.71,0.506)(14.76,0.494)(14.80,0.488)(14.85,0.482)(14.89,0.476)(14.94,0.474)(14.98,0.476)(15.03,0.465)(15.07,0.453)(15.12,0.444)(15.15,0.424)(15.19,0.427)(15.24,0.418)(15.28,0.430)(15.34,0.433)(15.39,0.436)(15.43,0.447)(15.50,0.450)(15.54,0.430)(15.59,0.442)(15.63,0.421)(15.68,0.439)(15.72,0.410)(15.77,0.413)(15.81,0.430)(15.87,0.439)(15.92,0.410)(15.96,0.404)(16.01,0.389)(16.05,0.401)(16.10,0.407)(16.14,0.395)(16.18,0.381)(16.21,0.413)(16.24,0.442)(16.28,0.430)(16.33,0.447)(16.37,0.442)(16.42,0.433)(16.46,0.436)(16.51,0.430)(16.55,0.421)(16.60,0.442)(16.65,0.474)(16.68,0.488)
};
\addlegendentry{Scenario\_4}
\end{axis}
\end{tikzpicture}
\end{document}
